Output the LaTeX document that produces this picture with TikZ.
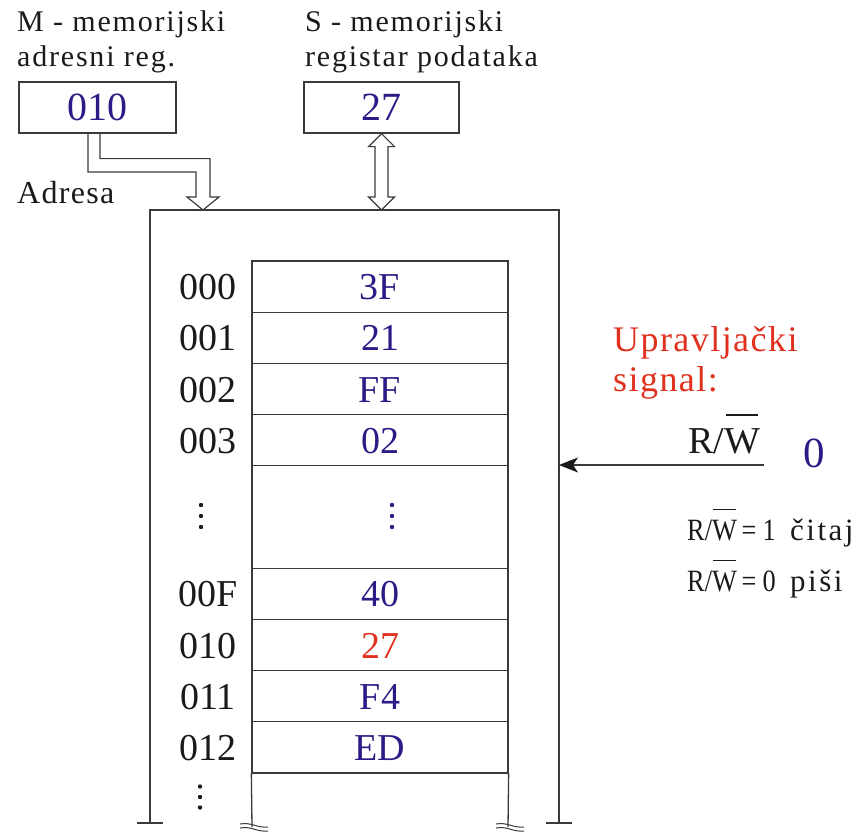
\documentclass[tikz,border=0pt]{standalone}
\usepackage{fontspec}
\setmainfont{Liberation Serif}
\newfontfamily\spacedrm{Liberation Serif}[LetterSpace=6]
\newfontfamily\ctlrm{Liberation Serif}[LetterSpace=4]
\newfontfamily\condrm{Liberation Serif}[FakeStretch=0.85]
\newfontfamily\looserm{Liberation Serif}[LetterSpace=8]
\usetikzlibrary{arrows.meta,calc}
\definecolor{valblue}{HTML}{2E1A87}
\definecolor{sigred}{HTML}{E0301E}
\definecolor{linegray}{HTML}{3A3A3A}
\definecolor{ink}{HTML}{1A1A1A}
\newcommand\fsz[1]{\fontsize{#1}{#1}\selectfont}
% W with a bar over it (active-low write)
\newlength\wwd
\newcommand\barW{\settowidth\wwd{W}\ooalign{W\cr\hidewidth\rule[0.98em]{0.9\wwd}{0.035em}\hidewidth\cr}}

\begin{document}
\begin{tikzpicture}[x=1pt,y=-1pt,
  ln/.style={draw=linegray,line width=1.3pt},
  bus/.style={draw=linegray,line width=1.2pt,line join=miter},
  reg/.style={draw=linegray,line width=1.3pt,minimum height=51pt,inner sep=0pt,
    font=\fsz{40},text=valblue,text height=27pt,text depth=0pt},
  cell/.style={draw=linegray,line width=1.3pt,minimum width=256pt,minimum height=51.2pt,
    inner sep=0pt,font=\fsz{38},text=valblue,text height=26pt,text depth=0pt},
  addr/.style={inner sep=0pt,font=\fsz{38},text=ink,text height=26pt,text depth=0pt},
  lab/.style={inner sep=0pt,anchor=base west,text=ink},
]
\useasboundingbox (0,0) rectangle (865,832);

% ---- memory frame ----
\coordinate (fTL) at (150,210);
\coordinate (fTR) at (559,210);
\coordinate (fBL) at (150,823);
\coordinate (fBR) at (559,823);
\draw[ln] (fBL) -- (fTL) -- (fTR) -- (fBR);
\draw[ln] ($(fBL)+(-13,0)$) -- ($(fBL)+(13,0)$);
\draw[ln] ($(fBR)+(-13,0)$) -- ($(fBR)+(13,0)$);

% ---- memory cells ----
\node[cell] (m000) at (380,286.6) {3F};
\node[cell] (m001) at (380,337.8) {21};
\node[cell] (m002) at (380,389.0) {FF};
\node[cell] (m003) at (380,440.2) {02};
\node[cell,minimum height=102.4pt] (mgap) at (380,517.0) {};
\node[cell] (m00F) at (380,593.8) {40};
\node[cell,text=sigred] (m010) at (380,645.0) {27};
\node[cell] (m011) at (380,696.2) {F4};
\node[cell] (m012) at (380,747.4) {ED};

% open continuation below the last cell, with break marks
\coordinate (tBL) at (252,827);
\coordinate (tBR) at (508,827);
\draw[ln] (m012.south west) -- (tBL);
\draw[ln] (m012.south east) -- (tBR);
\foreach \c in {tBL,tBR}{
  \draw[draw=linegray,line width=1pt] ($(\c)+(-12,-3)$) .. controls ($(\c)+(0,-5)$) and ($(\c)+(4,1)$) .. ($(\c)+(16,0)$);
  \draw[draw=linegray,line width=1pt] ($(\c)+(-12,1)$) .. controls ($(\c)+(0,-1)$) and ($(\c)+(4,5)$) .. ($(\c)+(16,4)$);
}

% ---- addresses ----
\node[addr] (a000) at (208,286.6) {000};
\node[addr] (a001) at (208,337.8) {001};
\node[addr] (a002) at (208,389.0) {002};
\node[addr] (a003) at (208,440.2) {003};
\node[addr] (a00F) at (208,593.8) {00F};
\node[addr] (a010) at (208,645.0) {010};
\node[addr] (a011) at (208,696.2) {011};
\node[addr] (a012) at (208,747.4) {012};

% vertical ellipses
\foreach \dy in {-11,0,11}{
  \fill[ink] (201,516+\dy) circle (2.2);
  \fill[valblue] (392,516+\dy) circle (2.2);
}
\foreach \dy in {-10.5,0,10.5}{
  \fill[ink] (200,797+\dy) circle (2.2);
}

% ---- registers ----
\node[reg,minimum width=157pt] (mreg) at (97.5,107.5) {010};
\node[reg,minimum width=155pt] (sreg) at (381.5,107.5) {27};

\node[lab,font=\spacedrm\fsz{30}] (mlab1) at (17,32) {M - memorijski};
\node[lab,font=\spacedrm\fsz{30}] (mlab2) at (17,67) {adresni reg.};
\node[lab,font=\spacedrm\fsz{30}] (slab1) at (305,32) {S - memorijski};
\node[lab,font=\spacedrm\fsz{30}] (slab2) at (305,67) {registar podataka};
\node[lab,font=\ctlrm\fsz{32}] (adr) at (17,204) {Adresa};

% address bus: M register -> memory
\coordinate (aT) at ($(mreg.south)+(-3.5,0)$);
\coordinate (addrin) at (203,210);
\draw[bus] ($(aT)+(-6,0)$) |- ($(addrin)+(-7,-38)$) -- ($(addrin)+(-7,-13)$)
  -- ($(addrin)+(-16,-13)$) -- (addrin) -- ($(addrin)+(16,-13)$)
  -- ($(addrin)+(7,-13)$) |- ($(aT)+(6,25)$) -- ($(aT)+(6,0)$);

% data bus: S register <-> memory
\coordinate (datin) at (381.5,210);
\draw[bus] (sreg.south) -- ++(13,13) -- ++(-6.5,0) -- ($(datin)+(6.5,-13)$)
  -- ++(6.5,0) -- (datin) -- ++(-13,-13) -- ++(6.5,0)
  -- ($(sreg.south)+(-6.5,13)$) -- ++(-6.5,0) -- cycle;

% ---- control signal ----
\node[lab,font=\ctlrm\fsz{36},text=sigred] (ctl1) at (613,351) {Upravljački};
\node[lab,font=\ctlrm\fsz{36},text=sigred] (ctl2) at (613,391) {signal:};
\node[lab,font=\fsz{38}] (rw) at (688,453) {R/\barW};
\node[lab,font=\fsz{43},text=valblue] (rwval) at (803,467) {0};

\coordinate (rwstart) at (764,465);
\draw[ln,-{Stealth[length=19pt,width=15pt,inset=5pt,fill=ink,color=ink]}]
  (rwstart) -- (fTR |- rwstart);

% read / write legend
\node[lab,font=\condrm\fsz{31}] (rd) at (687,540) {R/\barW\hspace{0.15em}=\hspace{0.2em}1};
\node[lab,font=\looserm\fsz{31}] (rdt) at (790,540) {čitaj};
\node[lab,font=\condrm\fsz{31}] (wr) at (687,591) {R/\barW\hspace{0.15em}=\hspace{0.2em}0};
\node[lab,font=\looserm\fsz{31}] (wrt) at (790,591) {piši};
\end{tikzpicture}
\end{document}
